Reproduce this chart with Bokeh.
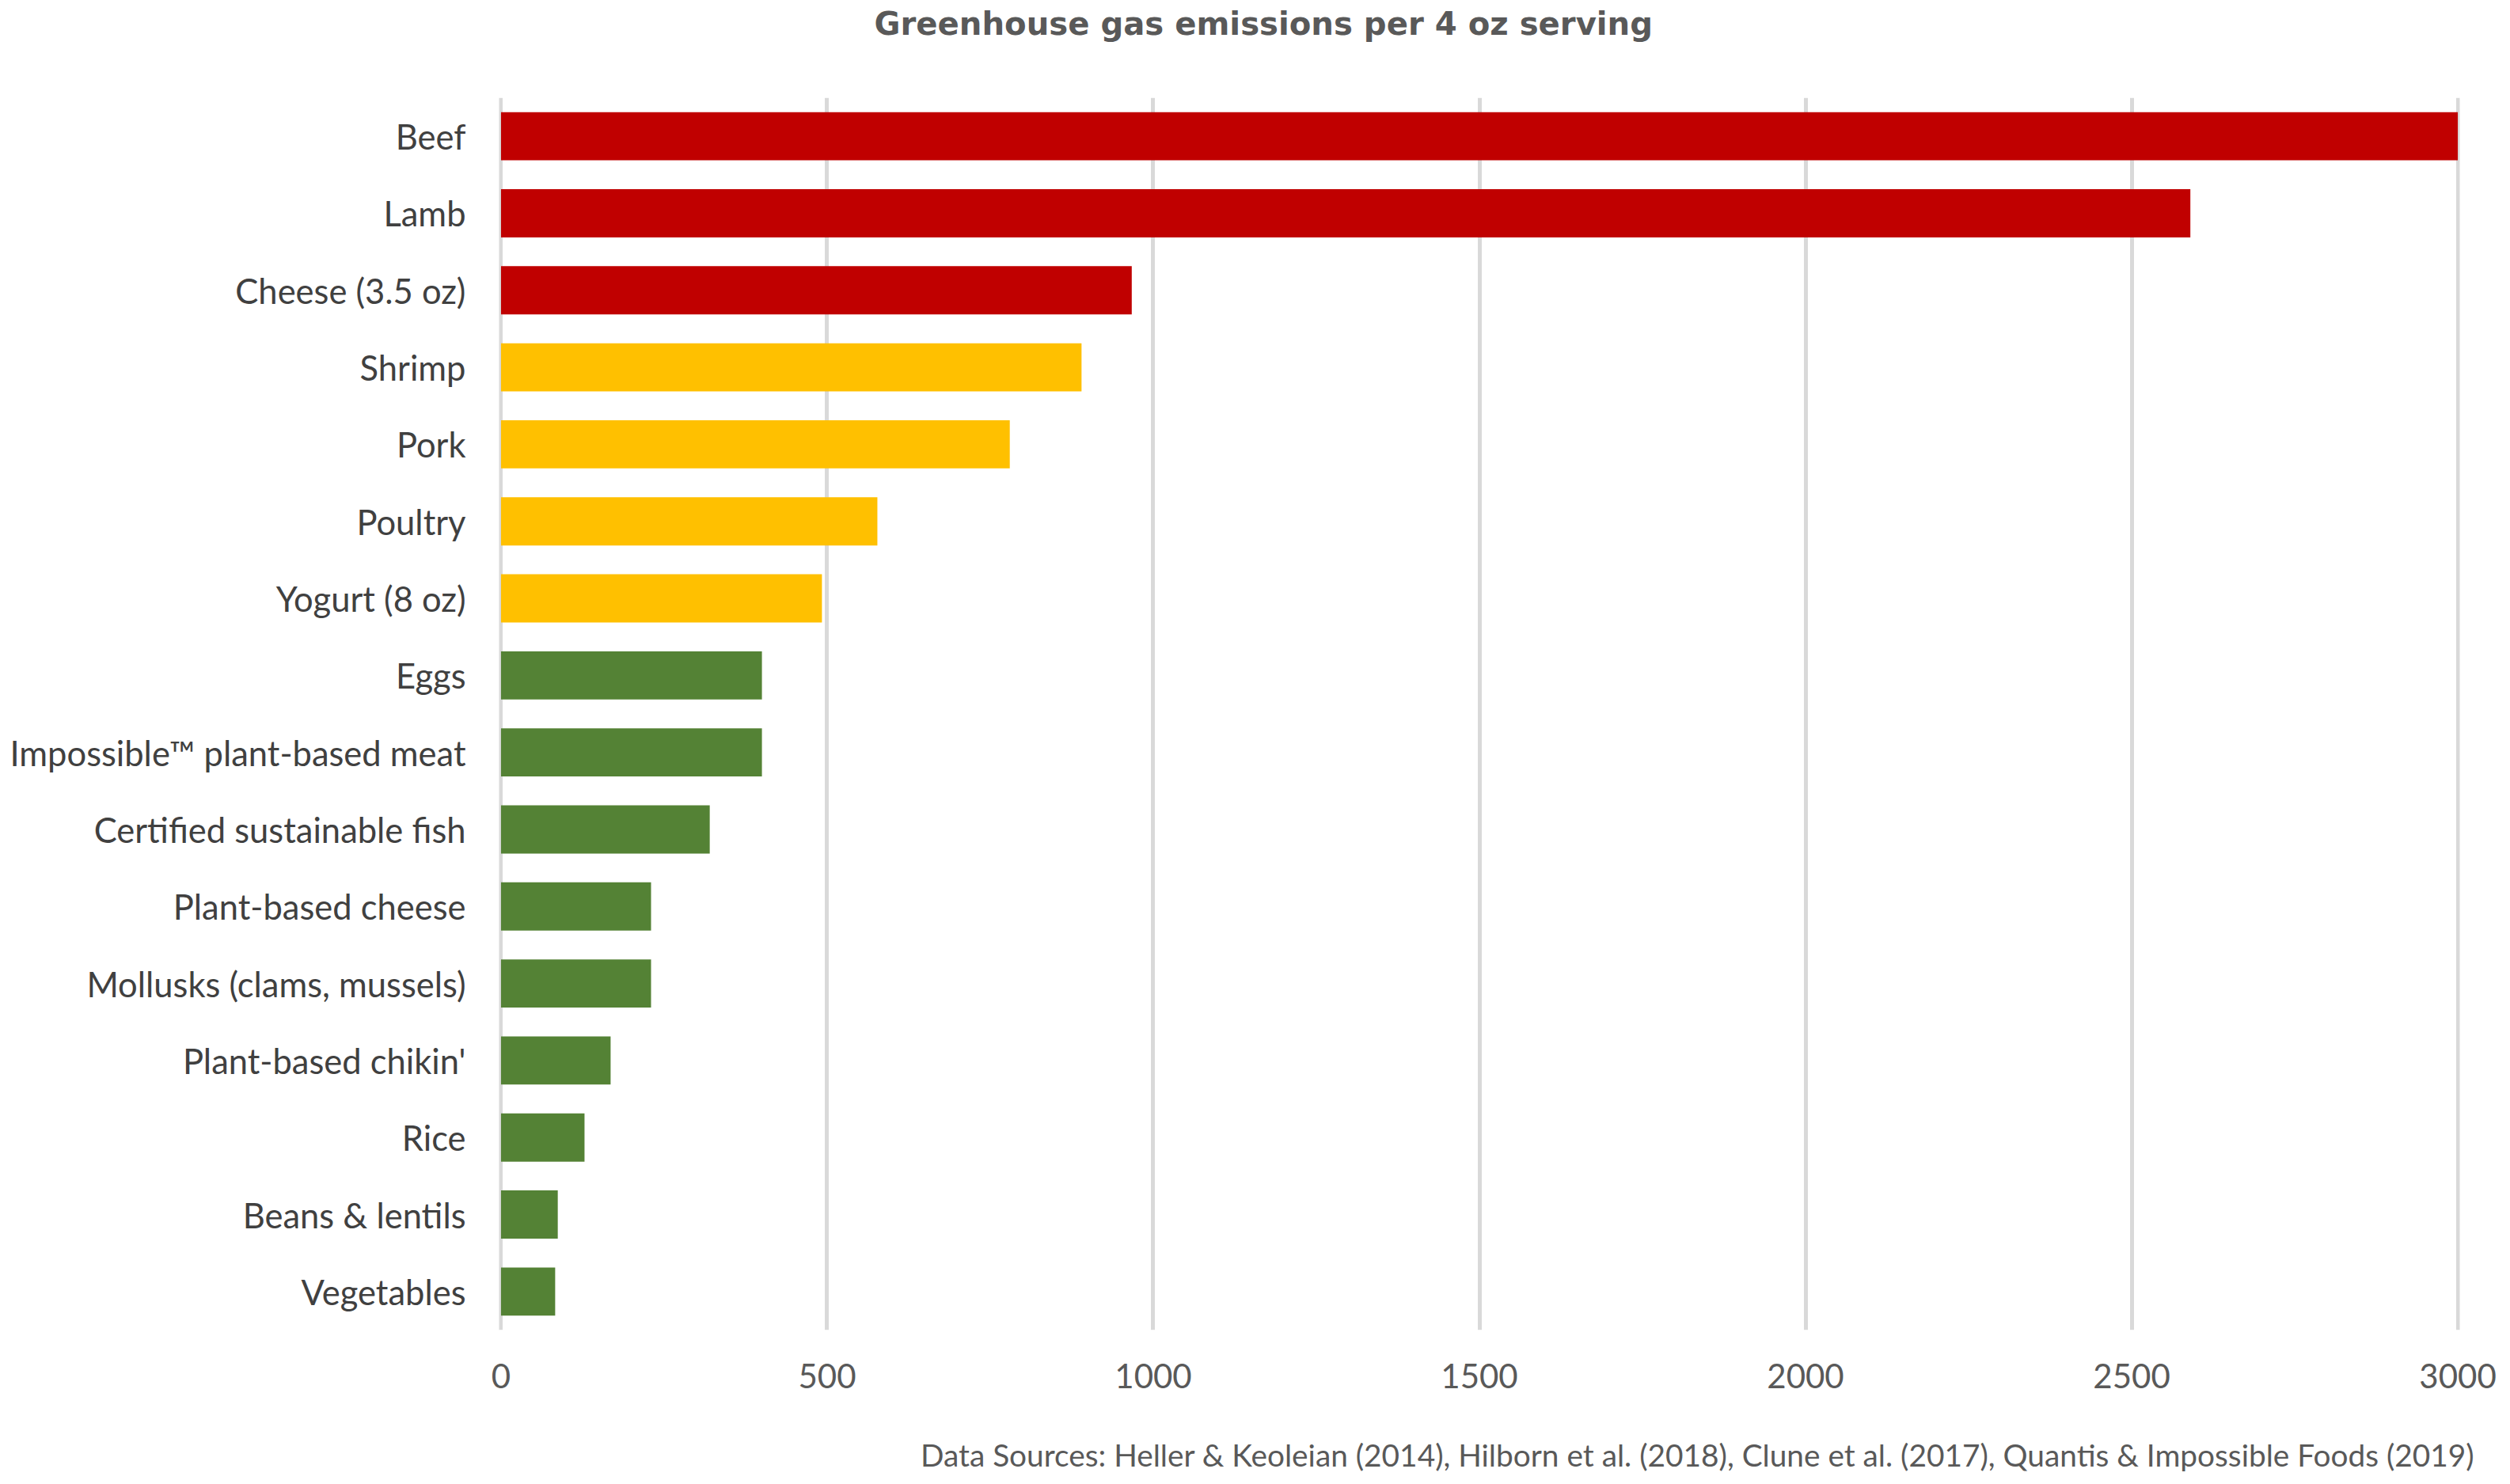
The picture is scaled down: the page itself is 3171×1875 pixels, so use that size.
from bokeh.plotting import figure
from bokeh.models import Range1d, FactorRange, FixedTicker, Title, ColumnDataSource
from bokeh.transform import factor_cmap
from bokeh.embed import file_html
from bokeh.resources import INLINE

# ---- data ----
foods = ["Beef", "Lamb", "Cheese (3.5 oz)", "Shrimp", "Pork", "Poultry",
         "Yogurt (8 oz)", "Eggs", "Impossible\u2122 plant-based meat",
         "Certified sustainable fish", "Plant-based cheese",
         "Mollusks (clams, mussels)", "Plant-based chikin'", "Rice",
         "Beans & lentils", "Vegetables"]
emissions = [3000, 2590, 967, 890, 780, 577, 492, 400, 400, 320, 230, 230,
             168, 128, 87, 83]
tier = ["high", "high", "high", "medium", "medium", "medium", "medium",
        "low", "low", "low", "low", "low", "low", "low", "low", "low"]
tier_names = ["high", "medium", "low"]
tier_colors = ["#C00000", "#FFC000", "#548235"]
x_ticks = [0, 500, 1000, 1500, 2000, 2500, 3000]

title_text = "Greenhouse gas emissions per 4 oz serving"
source_text = ("Data Sources: Heller & Keoleian (2014), Hilborn et al. (2018), "
               "Clune et al. (2017), Quantis & Impossible Foods (2019)")

FONT = "Lato"

W, H = 3155, 1859
BL, BR, BT, BB = 630, 48, 123, 179

src = ColumnDataSource(dict(food=foods, value=emissions, tier=tier))

p = figure(width=W, height=H, output_backend="svg", toolbar_location=None,
           x_range=Range1d(-3, 3003),
           y_range=FactorRange(factors=list(reversed(foods))),
           min_border_left=BL, min_border_right=BR,
           min_border_top=BT, min_border_bottom=BB)

p.hbar(y="food", left=0, right="value", height=0.625, source=src,
       fill_color=factor_cmap("tier", tier_colors, tier_names), line_color=None)

# title (outermost item of the above panel) + spacer between it and the frame
p.title.text = title_text
p.title.text_font = "DejaVu Sans"
p.title.text_font_size = "40.2px"
p.title.text_font_style = "bold"
p.title.text_color = "#595959"
p.title.align = "left"
p.title.offset = 1104 - BL
p.title.standoff = 0
p.title.vertical_align = "bottom"

p.add_layout(Title(text=" ", text_font_size="1px", standoff=68), "above")

# footer below the x axis (the blank axis label gives the gap)
footer = Title(text=source_text, align="right", offset=-(3126 - (W - BR)),
               text_font=FONT, text_font_size="38.8px", text_font_style="normal",
               text_color="#595959", standoff=-8, vertical_align="bottom")
p.add_layout(footer, "below")

p.outline_line_color = None
p.background_fill_color = "white"
p.border_fill_color = "white"

# grid
p.ygrid.grid_line_color = None
p.xgrid.grid_line_color = "#D9D9D9"
p.xgrid.grid_line_width = 5
p.xgrid.ticker = FixedTicker(ticks=x_ticks)

# x axis
p.xaxis.ticker = FixedTicker(ticks=x_ticks)
p.xaxis.axis_line_color = None
p.xaxis.major_tick_line_color = None
p.xaxis.minor_tick_line_color = None
p.xaxis.major_label_text_font = FONT
p.xaxis.major_label_text_font_size = "42px"
p.xaxis.major_label_text_color = "#595959"
p.xaxis.major_label_standoff = 36
p.xaxis.axis_label = " "
p.xaxis.axis_label_text_font_size = "1px"
p.xaxis.axis_label_standoff = 56

# y axis
p.yaxis.axis_line_color = None
p.yaxis.major_tick_line_color = None
p.yaxis.minor_tick_line_color = None
p.yaxis.major_label_text_font = FONT
p.yaxis.major_label_text_font_size = "43.5px"
p.yaxis.major_label_text_color = "#404040"
p.yaxis.major_label_standoff = 36

open("out.html", "w").write(file_html(p, INLINE))
